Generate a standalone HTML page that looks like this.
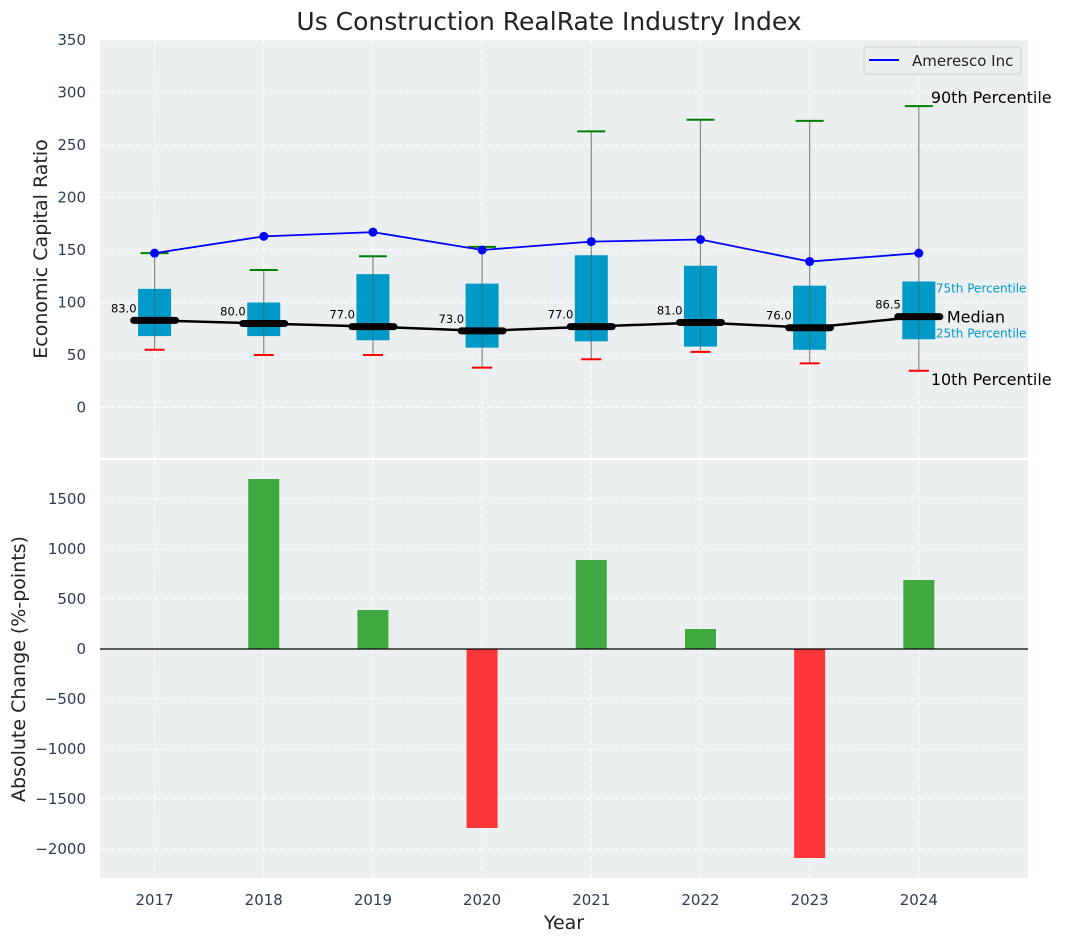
<!DOCTYPE html>
<html><head><meta charset="utf-8"><style>
body{margin:0;background:#fff;}
svg{display:block;font-family:"DejaVu Sans","Liberation Sans",sans-serif;}
</style></head><body>
<svg id="c" width="1067" height="942"></svg>
<script>
const years=[2017,2018,2019,2020,2021,2022,2023,2024];
const p90=[147,131,144,153,263,274,273,287];
const q75=[113,100,127,118,145,135,116,120];
const medians=[83,80,77,73,77,81,76,86.5];
const q25=[68,68,64,57,63,58,55,65];
const p10=[55,50,50,38,46,53,42,35];
const ameresco=[147,163,167,150,158,160,139,147];
const changes=[0,1700,390,-1790,890,200,-2090,690];
const topTicks=[0,50,100,150,200,250,300,350];
const botTicks=[-2000,-1500,-1000,-500,0,500,1000,1500];

const NS='http://www.w3.org/2000/svg';
const svg=document.getElementById('c');
function el(t,a,txt){const e=document.createElementNS(NS,t);for(const k in a)e.setAttribute(k,a[k]);if(txt!==undefined)e.textContent=txt;svg.appendChild(e);return e;}
const L=100,R=1028;
const x=v=>L+(v-2016.5)/(2025-2016.5)*(R-L);
const yT=v=>407.5-v*1.05;
const yB=v=>649-v*0.1;

let t=el('text',{x:549,y:30,'text-anchor':'middle','font-size':25,fill:'#222'},'Us Construction RealRate Industry Index');


let p=el('rect',{x:L,y:40,width:R-L,height:418,fill:'#ebeff0'});

p=el('rect',{x:L,y:460,width:R-L,height:418,fill:'#ebeff0'});


years.forEach(yr=>{
  let g=el('line',{x1:x(yr),x2:x(yr),y1:40,y2:458,stroke:'#fff','stroke-dasharray':'5,4','stroke-width':1});
  
  g=el('line',{x1:x(yr),x2:x(yr),y1:460,y2:878,stroke:'#fff','stroke-dasharray':'5,4','stroke-width':1});
  
  let tl=el('text',{x:x(yr),y:905,'text-anchor':'middle','font-size':15,fill:'#2d3e50'},yr);
  
});
topTicks.forEach(v=>{
  let g=el('line',{x1:L,x2:R,y1:yT(v),y2:yT(v),stroke:'#fff','stroke-dasharray':'5,4'});
  
  let tl=el('text',{x:86,y:yT(v)+5,'text-anchor':'end','font-size':15,fill:'#2d3e50'},v);
  
});
botTicks.forEach(v=>{
  let g=el('line',{x1:L,x2:R,y1:yB(v),y2:yB(v),stroke:'#fff','stroke-dasharray':'5,4'});
  
  let tl=el('text',{x:86,y:yB(v)+5,'text-anchor':'end','font-size':15,fill:'#2d3e50'},v<0?'\u2212'+(-v):v);
  
});

t=el('text',{x:0,y:0,transform:'translate(47,249) rotate(-90)','text-anchor':'middle','font-size':19,fill:'#222'},'Economic Capital Ratio');

t=el('text',{x:0,y:0,transform:'translate(25,669) rotate(-90)','text-anchor':'middle','font-size':19,fill:'#222'},'Absolute Change (%-points)');

t=el('text',{x:564,y:929,'text-anchor':'middle','font-size':19,fill:'#222'},'Year');


years.forEach((yr,i)=>{
  const cx=x(yr);
  let w=el('line',{x1:cx,x2:cx,y1:yT(p90[i]),y2:yT(p10[i]),stroke:'#888','stroke-width':1.2});
  
  let b=el('rect',{x:cx-16.5,y:yT(q75[i]),width:33,height:yT(q25[i])-yT(q75[i]),fill:'#009ac9'});
  
  w=el('line',{x1:cx,x2:cx,y1:yT(q75[i]),y2:yT(q25[i]),stroke:'#555','stroke-width':1,opacity:0.6});
  
  let c=el('line',{x1:cx-14,x2:cx+14,y1:yT(p90[i]),y2:yT(p90[i]),stroke:'green','stroke-width':2});
  
  c=el('line',{x1:cx-10,x2:cx+10,y1:yT(p10[i]),y2:yT(p10[i]),stroke:'red','stroke-width':2});
  
});
let ml=el('polyline',{points:years.map((yr,i)=>x(yr)+','+yT(medians[i])).join(' '),fill:'none',stroke:'#000','stroke-width':2.5});

years.forEach((yr,i)=>{
  const cx=x(yr);
  let m=el('line',{x1:cx-21,x2:cx+21,y1:yT(medians[i]),y2:yT(medians[i]),stroke:'#000','stroke-width':7,'stroke-linecap':'round'});
  
  let l=el('text',{x:cx-18,y:yT(medians[i])-8,'text-anchor':'end','font-size':11.5,fill:'#000'},medians[i].toFixed(1));
  
});
let al=el('polyline',{points:years.map((yr,i)=>x(yr)+','+yT(ameresco[i])).join(' '),fill:'none',stroke:'#0000ff','stroke-width':1.8});

years.forEach((yr,i)=>{
  let d=el('circle',{cx:x(yr),cy:yT(ameresco[i]),r:4.5,fill:'#0000ff'});
  
});
const lx=x(2024), li=7;
t=el('text',{x:lx+12,y:yT(p90[li])-3,'font-size':16,fill:'#000'},'90th Percentile');

t=el('text',{x:lx+12,y:yT(p10[li])+14,'font-size':16,fill:'#000'},'10th Percentile');

t=el('text',{x:lx+28,y:yT(medians[li])+6,'font-size':16,fill:'#000'},'Median');

t=el('text',{x:lx+17,y:yT(q75[li])+11,'font-size':12,fill:'#009ac9'},'75th Percentile');

t=el('text',{x:lx+17,y:yT(q25[li])-2,'font-size':12,fill:'#009ac9'},'25th Percentile');


let lg=el('rect',{x:864,y:47,width:157,height:27,rx:3,fill:'#ebeff0',stroke:'#d0d0d0'});

let ll=el('line',{x1:869,x2:899,y1:60,y2:60,stroke:'#0000ff','stroke-width':2});

t=el('text',{x:912,y:66,'font-size':15,fill:'#222'},'Ameresco Inc');


years.forEach((yr,i)=>{
  const v=changes[i]; if(v===0)return;
  const y0=yB(Math.max(v,0)), y1=yB(Math.min(v,0));
  let b=el('rect',{x:x(yr)-15.5,y:y0,width:31,height:y1-y0,fill:v>0?'#2ca02c':'#ff2222',opacity:0.9});
  
});
let z=el('line',{x1:L,x2:R,y1:yB(0),y2:yB(0),stroke:'#000','stroke-width':1.2});

</script>
</body></html>
